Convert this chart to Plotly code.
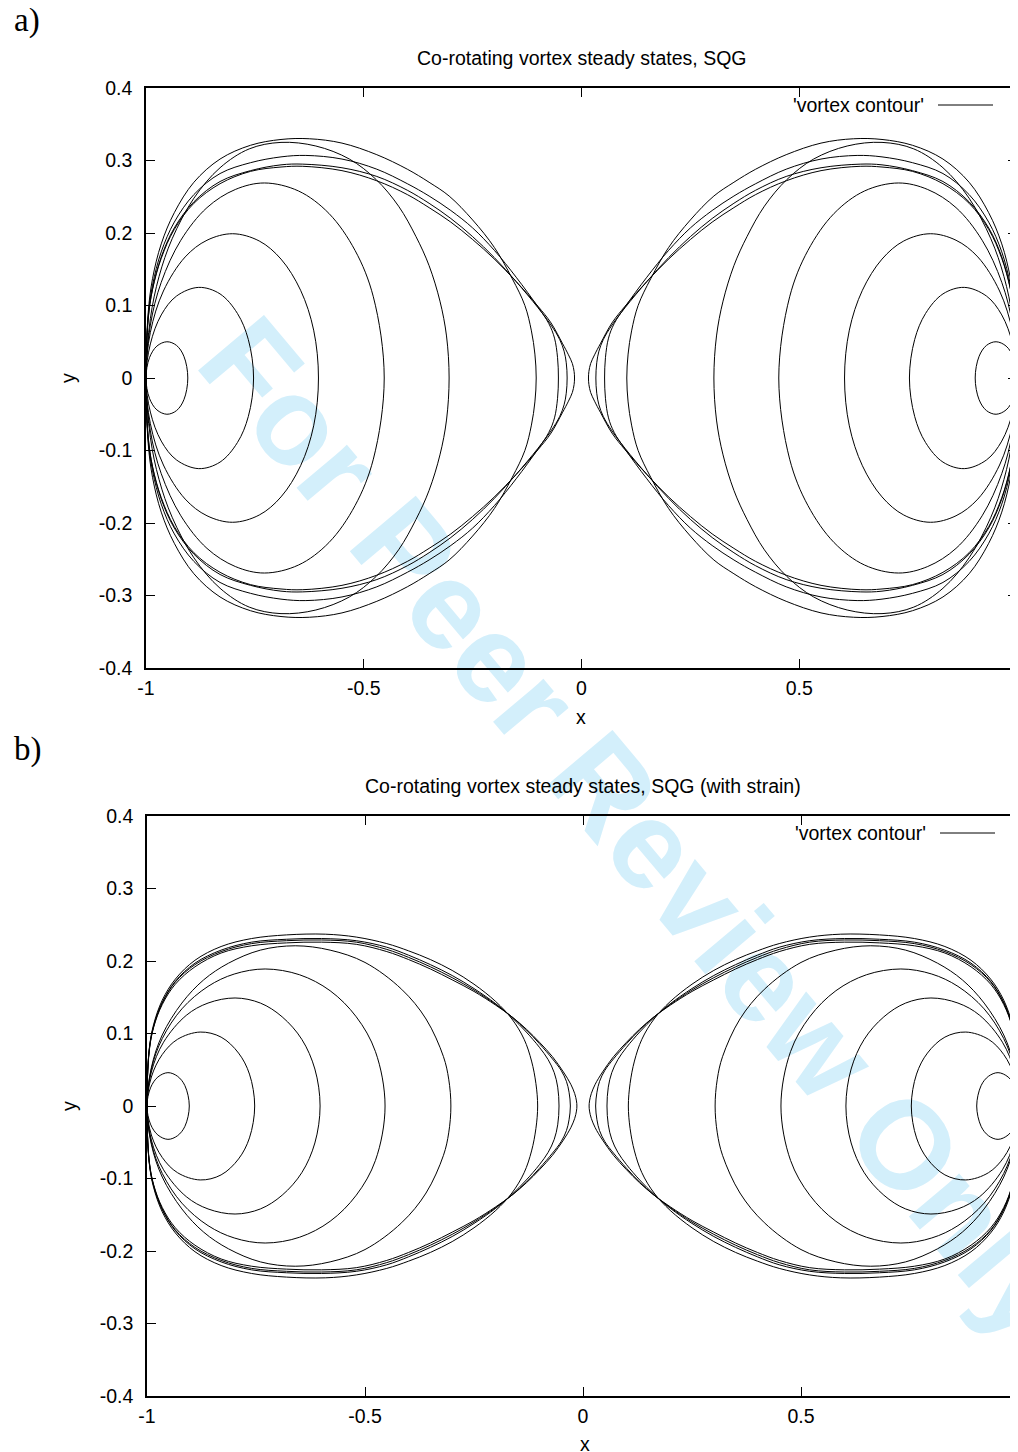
import plotly.graph_objects as go

W, H = 1018, 1452

# ---- data: upper halves of the left-vortex contours
# (the right vortex is the mirror image in x, the lower halves the mirror image in y)

# Panel a: no strain
A_UX = [
    [-1, -0.992, -0.975, -0.952, -0.930, -0.913, -0.904],
    [-1, -0.99, -0.965, -0.93, -0.879, -0.83, -0.79, -0.765, -0.753],
    [-1, -0.99, -0.96, -0.91, -0.86, -0.801, -0.74, -0.69, -0.645, -0.615, -0.604],
    [-1, -0.99, -0.965, -0.92, -0.86, -0.795, -0.728, -0.65, -0.58, -0.52, -0.478, -0.453],
    [-1, -0.99, -0.97, -0.94, -0.89, -0.83, -0.763, -0.69, -0.61, -0.533, -0.472, -0.42, -0.38, -0.35, -0.325, -0.31, -0.304],
    [-1, -0.995, -0.985, -0.965, -0.935, -0.89, -0.83, -0.76, -0.69, -0.625, -0.55, -0.47, -0.4, -0.35, -0.304, -0.25, -0.2, -0.159, -0.13, -0.115, -0.107, -0.104],
    [-1, -0.995, -0.985, -0.965, -0.935, -0.89, -0.83, -0.76, -0.69, -0.633, -0.55, -0.47, -0.4, -0.35, -0.3, -0.25, -0.2, -0.15, -0.1, -0.075, -0.062, -0.055, -0.053],
    [-1, -0.995, -0.985, -0.965, -0.935, -0.89, -0.83, -0.76, -0.69, -0.64, -0.55, -0.47, -0.4, -0.35, -0.3, -0.25, -0.2, -0.15, -0.1, -0.07, -0.05, -0.04, -0.035, -0.033],
    [-1, -0.995, -0.985, -0.965, -0.935, -0.89, -0.83, -0.76, -0.69, -0.64, -0.55, -0.47, -0.4, -0.35, -0.3, -0.25, -0.2, -0.15, -0.1, -0.07, -0.044, -0.03, -0.021, -0.017, -0.016],
]
A_UY = [
    [0, 0.028, 0.044, 0.050, 0.045, 0.030, 0],
    [0, 0.047, 0.087, 0.113, 0.125, 0.116, 0.089, 0.053, 0],
    [0, 0.063, 0.12, 0.167, 0.19, 0.199, 0.189, 0.164, 0.121, 0.066, 0],
    [0, 0.073, 0.132, 0.19, 0.235, 0.26, 0.269, 0.258, 0.227, 0.176, 0.112, 0],
    [0, 0.082, 0.14, 0.192, 0.248, 0.29, 0.316, 0.325, 0.32, 0.302, 0.274, 0.237, 0.195, 0.155, 0.106, 0.058, 0],
    [0, 0.09, 0.137, 0.185, 0.228, 0.27, 0.302, 0.321, 0.329, 0.330, 0.324, 0.308, 0.288, 0.270, 0.251, 0.218, 0.180, 0.137, 0.100, 0.065, 0.033, 0],
    [0, 0.085, 0.128, 0.174, 0.215, 0.253, 0.282, 0.297, 0.305, 0.307, 0.302, 0.288, 0.268, 0.251, 0.231, 0.207, 0.176, 0.139, 0.098, 0.075, 0.055, 0.028, 0],
    [0, 0.082, 0.123, 0.167, 0.207, 0.243, 0.271, 0.286, 0.294, 0.295, 0.290, 0.278, 0.259, 0.241, 0.220, 0.195, 0.166, 0.133, 0.097, 0.073, 0.053, 0.037, 0.021, 0],
    [0, 0.081, 0.122, 0.165, 0.205, 0.241, 0.268, 0.285, 0.291, 0.292, 0.286, 0.272, 0.253, 0.235, 0.215, 0.191, 0.164, 0.133, 0.099, 0.076, 0.048, 0.032, 0.020, 0.009, 0],
]

# Panel b: with strain
B_UX = [
    [-1, -0.992, -0.975, -0.952, -0.93, -0.913, -0.903],
    [-1, -0.99, -0.965, -0.93, -0.878, -0.83, -0.79, -0.765, -0.753],
    [-1, -0.99, -0.962, -0.91, -0.86, -0.798, -0.74, -0.69, -0.645, -0.615, -0.603],
    [-1, -0.99, -0.965, -0.92, -0.86, -0.8, -0.729, -0.65, -0.58, -0.52, -0.476, -0.454],
    [-1, -0.99, -0.965, -0.92, -0.87, -0.813, -0.74, -0.66, -0.58, -0.5, -0.416, -0.36, -0.32, -0.308, -0.303],
    [-1, -0.995, -0.985, -0.965, -0.935, -0.89, -0.83, -0.76, -0.68, -0.591, -0.52, -0.45, -0.4, -0.35, -0.3, -0.25, -0.2, -0.163, -0.135, -0.118, -0.108, -0.104],
    [-1, -0.995, -0.985, -0.965, -0.935, -0.89, -0.83, -0.76, -0.68, -0.6, -0.52, -0.45, -0.4, -0.35, -0.3, -0.25, -0.2, -0.163, -0.13, -0.1, -0.08, -0.066, -0.058, -0.055],
    [-1, -0.995, -0.985, -0.965, -0.935, -0.89, -0.83, -0.76, -0.68, -0.6, -0.52, -0.45, -0.4, -0.35, -0.3, -0.25, -0.2, -0.163, -0.13, -0.1, -0.07, -0.05, -0.038, -0.032, -0.029],
    [-1, -0.995, -0.985, -0.965, -0.935, -0.89, -0.83, -0.76, -0.68, -0.6, -0.52, -0.45, -0.4, -0.35, -0.3, -0.25, -0.2, -0.163, -0.13, -0.1, -0.07, -0.045, -0.028, -0.019, -0.015, -0.014],
]
B_UY = [
    [0, 0.025, 0.040, 0.046, 0.041, 0.028, 0],
    [0, 0.040, 0.071, 0.092, 0.102, 0.095, 0.073, 0.044, 0],
    [0, 0.047, 0.088, 0.125, 0.142, 0.149, 0.142, 0.123, 0.092, 0.051, 0],
    [0, 0.051, 0.093, 0.134, 0.165, 0.182, 0.189, 0.181, 0.159, 0.123, 0.075, 0],
    [0, 0.053, 0.098, 0.142, 0.174, 0.197, 0.215, 0.221, 0.215, 0.198, 0.161, 0.12, 0.068, 0.037, 0],
    [0, 0.078, 0.112, 0.146, 0.175, 0.201, 0.220, 0.231, 0.236, 0.237, 0.233, 0.224, 0.214, 0.202, 0.187, 0.168, 0.144, 0.120, 0.092, 0.062, 0.031, 0],
    [0, 0.077, 0.110, 0.143, 0.172, 0.197, 0.215, 0.226, 0.230, 0.231, 0.228, 0.219, 0.208, 0.195, 0.180, 0.162, 0.141, 0.122, 0.102, 0.081, 0.064, 0.046, 0.026, 0],
    [0, 0.076, 0.109, 0.142, 0.171, 0.195, 0.213, 0.224, 0.228, 0.229, 0.226, 0.216, 0.205, 0.192, 0.177, 0.160, 0.140, 0.123, 0.105, 0.086, 0.065, 0.049, 0.034, 0.019, 0],
    [0, 0.075, 0.108, 0.140, 0.168, 0.192, 0.211, 0.221, 0.225, 0.226, 0.223, 0.213, 0.202, 0.189, 0.174, 0.158, 0.139, 0.123, 0.106, 0.088, 0.068, 0.047, 0.030, 0.017, 0.007, 0],
]

X_TICKS = [-1, -0.5, 0, 0.5, 1]
X_TICK_TEXT = ["-1", "-0.5", "0", "0.5", "1"]
Y_TICKS = [-0.4, -0.3, -0.2, -0.1, 0, 0.1, 0.2, 0.3, 0.4]
Y_TICK_TEXT = ["-0.4", "-0.3", "-0.2", "-0.1", "0", "0.1", "0.2", "0.3", "0.4"]
TITLES = ["Co-rotating vortex steady states, SQG",
          "Co-rotating vortex steady states, SQG (with strain)"]
PANEL_TAGS = ["a)", "b)"]
LEGEND_LABEL = "'vortex contour'"
WATERMARK = "For Peer Review Only"

FONT = "Liberation Sans"
FS = 19.5

# the page body adds an 8 px offset; positions below are given in
# target-picture pixels and mapped back to layout pixels
OX, OY = 8, 8


def lx(x):
    return x - OX


def ly(y):
    return y - OY


def px(x):
    return lx(x) / W


def py(y):
    return 1 - ly(y) / H


def closed(ux, uy, sign):
    # start at the right edge, go over the top to x=-1, return along the bottom
    xs = [sign * v for v in ux[::-1]] + [sign * v for v in ux[1:]]
    ys = list(uy[::-1]) + [-v for v in uy[1:]]
    return xs, ys


fig = go.Figure()
for k, (UX, UY) in enumerate([(A_UX, A_UY), (B_UX, B_UY)]):
    xa = "x" if k == 0 else "x2"
    ya = "y" if k == 0 else "y2"
    for ux, uy in zip(UX, UY):
        for sign in (1, -1):
            xs, ys = closed(ux, uy, sign)
            fig.add_trace(go.Scatter(
                x=xs, y=ys, mode="lines", xaxis=xa, yaxis=ya,
                line=dict(color="black", width=1, shape="spline", smoothing=1.0),
                showlegend=False, hoverinfo="skip"))

# plot frames in target-picture pixels
PANELS = [
    dict(x0=146, x1=1017, y0=88, y1=668, title=(581, 58), xl=(581, 717), yl=(68, 378),
         tag=(12, 21), leg_r=926, leg_y=105, line=(938, 993)),
    dict(x0=147, x1=1019, y0=816, y1=1396, title=(583, 786), xl=(585, 1444), yl=(69, 1106),
         tag=(12, 749), leg_r=928, leg_y=833, line=(940, 995)),
]

axis_common = dict(showgrid=False, zeroline=False, showline=True, linecolor="black",
                   linewidth=1.5, mirror="ticks", ticks="inside", ticklen=9,
                   tickwidth=1, tickcolor="black",
                   tickfont=dict(family=FONT, size=FS, color="black"))

layout = dict(
    width=W, height=H, margin=dict(l=0, r=0, t=0, b=0, autoexpand=False),
    paper_bgcolor="white", plot_bgcolor="rgba(0,0,0,0)",
    showlegend=False, annotations=[], shapes=[],
)


def text(t, x, y, **kw):
    d = dict(text=t, x=px(x), y=py(y), xref="paper", yref="paper", showarrow=False,
             font=dict(family=FONT, size=FS, color="black"),
             xanchor="center", yanchor="middle")
    d.update(kw)
    return d


for k, p in enumerate(PANELS):
    sx = "" if k == 0 else "2"
    layout["xaxis" + sx] = dict(axis_common, domain=[px(p["x0"]), min(1, px(p["x1"]))],
                                range=[-1, 1], tickvals=X_TICKS, ticktext=X_TICK_TEXT,
                                anchor="y" + sx, ticklabelstandoff=2, automargin=False)
    layout["yaxis" + sx] = dict(axis_common, domain=[py(p["y1"]), py(p["y0"])],
                                range=[-0.4, 0.4], tickvals=Y_TICKS, ticktext=Y_TICK_TEXT,
                                anchor="x" + sx, ticklabelstandoff=8, automargin=False)
    ann = layout["annotations"]
    ann.append(text(TITLES[k], *p["title"]))
    ann.append(text("x", *p["xl"]))
    ann.append(text("y", *p["yl"], textangle=-90))
    ann.append(text(PANEL_TAGS[k], *p["tag"], xanchor="left",
                    font=dict(family="Liberation Serif", size=33, color="black")))
    ann.append(text(LEGEND_LABEL, p["leg_r"], p["leg_y"], xanchor="right"))
    layout["shapes"].append(dict(type="line", xref="paper", yref="paper",
                                 x0=px(p["line"][0]), x1=px(p["line"][1]),
                                 y0=py(p["leg_y"]), y1=py(p["leg_y"]),
                                 line=dict(color="black", width=1)))

# watermark, drawn beneath the curves
wc = (593, 867)
layout["shapes"].append(dict(type="line", xref="paper", yref="paper", layer="below",
                             x0=px(wc[0] - 257), y0=py(wc[1] - 306),
                             x1=px(wc[0] + 257), y1=py(wc[1] + 306),
                             line=dict(color="rgba(0,0,0,0)", width=0),
                             label=dict(text=WATERMARK, textposition="middle",
                                        font=dict(family=FONT, size=125, color="#d3effb", weight="bold"))))

fig.update_layout(**layout)
fig.write_html("out.html")
